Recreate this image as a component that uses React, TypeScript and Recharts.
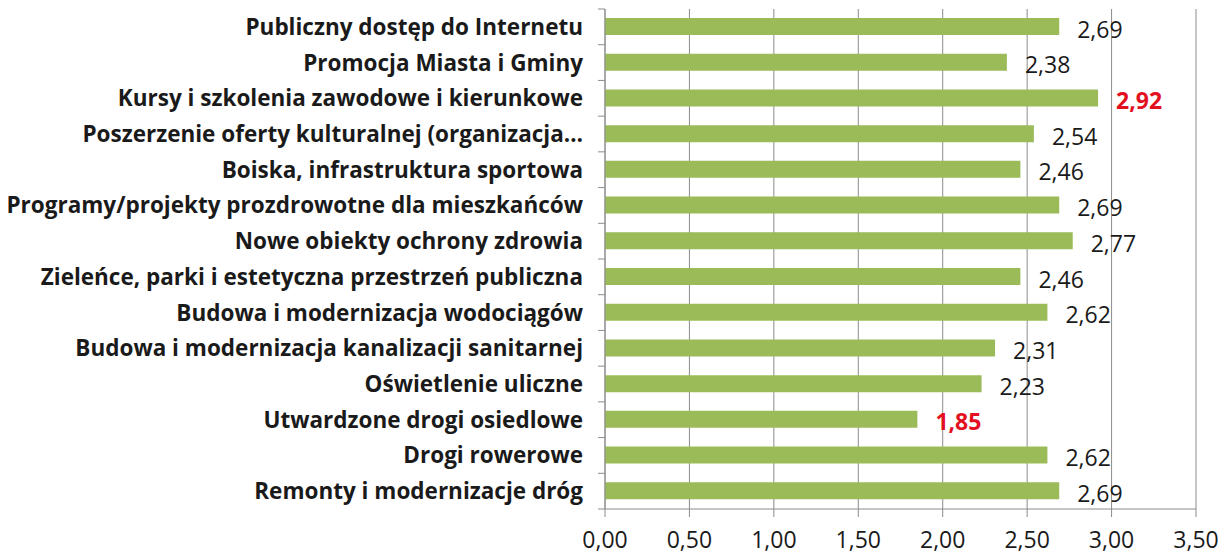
import React from 'react'
import { BarChart, Bar, XAxis, YAxis, CartesianGrid, LabelList } from 'recharts'

const categories = [
  'Publiczny dostęp do Internetu',
  'Promocja Miasta i Gminy',
  'Kursy i szkolenia zawodowe i kierunkowe',
  'Poszerzenie oferty kulturalnej (organizacja…',
  'Boiska, infrastruktura sportowa',
  'Programy/projekty prozdrowotne dla mieszkańców',
  'Nowe obiekty ochrony zdrowia',
  'Zieleńce, parki i estetyczna przestrzeń publiczna',
  'Budowa i modernizacja wodociągów',
  'Budowa i modernizacja kanalizacji sanitarnej',
  'Oświetlenie uliczne',
  'Utwardzone drogi osiedlowe',
  'Drogi rowerowe',
  'Remonty i modernizacje dróg',
]
const scores = [2.69, 2.38, 2.92, 2.54, 2.46, 2.69, 2.77, 2.46, 2.62, 2.31, 2.23, 1.85, 2.62, 2.69]
const xTicks = [0, 0.5, 1, 1.5, 2, 2.5, 3, 3.5]

const data = categories.map((name, i) => ({ name, value: scores[i] }))
const maxV = Math.max(...scores)
const minV = Math.min(...scores)

const FONT = '"Open Sans", "Noto Sans", sans-serif'
const BAR = '#9bbb59'
const GRID = '#8c8c8c'
const fmt = (v: number) => v.toFixed(2).replace('.', ',')

const W = 1230
const H = 556
const TOP = 9
const X_AXIS_H = 47
const Y_AXIS_W = 605
const ROW = (H - TOP - X_AXIS_H) / categories.length

function CatTick(props: any) {
  const { y, payload } = props
  const ax = Y_AXIS_W
  return (
    <g>
      <line x1={ax - 7} x2={ax} y1={y + ROW / 2} y2={y + ROW / 2} stroke={GRID} />
      {payload.index === 0 && <line x1={ax - 7} x2={ax} y1={y - ROW / 2} y2={y - ROW / 2} stroke={GRID} />}
      <text x={ax - 22} y={y} dy={8} textAnchor="end" fontSize={22.5} fontWeight={700} fill="#1a1a1a" fontFamily={FONT}>
        {payload.value}
      </text>
    </g>
  )
}

function XTick(props: any) {
  const { x, y, payload } = props
  return (
    <text x={x} y={y} dy={29} textAnchor="middle" fontSize={23} fill="#1a1a1a" fontFamily={FONT}>
      {fmt(payload.value)}
    </text>
  )
}

function ValueLabel(props: any) {
  const { x, y, width, height, value } = props
  const hi = value === maxV || value === minV
  return (
    <text
      x={x + width + 18}
      y={y + height / 2}
      dy={11}
      fontSize={23}
      fontWeight={hi ? 700 : 400}
      fill={hi ? '#e3101f' : '#1a1a1a'}
      fontFamily={FONT}
    >
      {fmt(value)}
    </text>
  )
}

export default function App() {
  return (
    <div style={{ position: 'absolute', left: 0, top: 0, width: W, height: H, background: '#fff' }}>
      <BarChart width={W} height={H} data={data} layout="vertical" margin={{ top: TOP, right: 34, bottom: 0, left: 0 }}>
        <CartesianGrid horizontal={false} stroke={GRID} />
        <XAxis
          type="number"
          domain={[0, 3.5]}
          ticks={xTicks}
          axisLine={{ stroke: GRID }}
          tickLine={{ stroke: GRID }}
          tickSize={8}
          height={X_AXIS_H}
          tick={<XTick />}
          interval={0}
        />
        <YAxis
          type="category"
          dataKey="name"
          width={Y_AXIS_W}
          axisLine={{ stroke: GRID }}
          tickLine={false}
          interval={0}
          tick={<CatTick />}
        />
        <Bar dataKey="value" fill={BAR} barSize={17} isAnimationActive={false}>
          <LabelList dataKey="value" content={<ValueLabel />} />
        </Bar>
      </BarChart>
    </div>
  )
}
